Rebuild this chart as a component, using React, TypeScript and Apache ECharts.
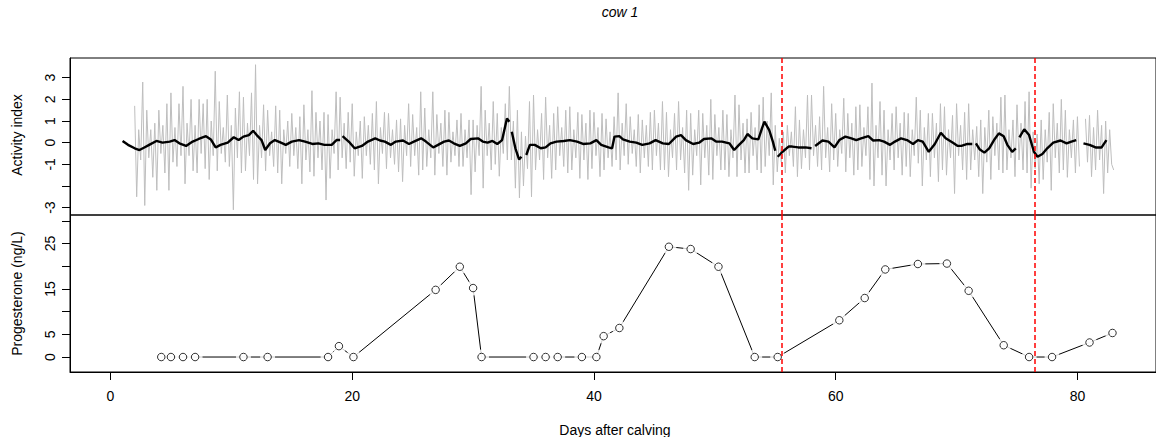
import React, { useEffect, useRef } from "react";
import * as echarts from "echarts";

// ---------- data ----------
// Activity index (raw, grey), sampled every 4 h from day 2
const grayStart = 2;
const grayPerDay = 6;
const grayValues: (number | null)[] = [
  1.7, -2.5, 0.6, -0.8, 2.8, -2.9,
  1.5, -0.7, 0.6, -1.6, 0.9, -2.2,
  1.5, -0.5, 0.8, -1.4, 1.8, -2.2,
  2.3, -0.9, 0.7, -1.1, 1.8, -0.6,
  2.6, -1.9, 0.9, -0.6, 2.0, -1.3,
  0.8, -1.4, 2.0, -0.5, 1.8, -1.2,
  2.0, -1.7, 1.0, -0.6, 3.3, -1.3,
  1.9, -0.5, 0.7, -0.9, 2.2, -1.1,
  0.8, -3.1, 1.6, -0.7, 2.35, -1.4,
  2.1, -1.3, 0.9, -0.6, 2.3, -1.7,
  3.6, -1.9, 0.8, -0.7, 1.75, -1.3,
  1.5, -0.6, 0.5, -1.1, 1.7, -1.4,
  1.5, -1.9, 0.6, -0.5, 1.0, -1.1,
  1.35, -0.6, 0.7, -1.2, 1.2, -1.9,
  1.75, -0.8, 0.6, -1.35, 2.4, -1.55,
  1.4, -0.7, 1.0, -1.26, 1.4, -2.65,
  1.3, -1.65, 0.6, -0.5, 2.35, -1.26,
  2.1, -0.7, 0.9, -1.2, 1.4, -0.9,
  1.8, -1.55, 0.5, -0.6, 1.0, -1.65,
  1.2, -0.6, 0.8, -1.0, 1.35, -1.26,
  1.9, -1.9, 0.7, -0.5, 1.4, -1.2,
  1.35, -0.7, 0.6, -1.0, 1.05, -1.35,
  1.1, -1.8, 0.8, -0.6, 1.8, -1.1,
  1.3, -0.6, 0.7, -1.5, 2.35, -1.26,
  1.6, -1.1, 0.6, -0.7, 2.35, -1.5,
  1.3, -0.5, 0.9, -1.1, 1.5, -1.5,
  1.4, -0.9, 0.5, -0.6, 1.05, -1.1,
  1.35, -1.1, 0.6, -0.7, 1.05, -2.4,
  1.05, -1.35, 0.8, -0.6, 2.6, -2.1,
  1.5, -0.6, 0.9, -1.26, 1.9, -1.0,
  1.35, -1.55, 0.7, -0.5, 1.8, -0.8,
  2.6, -0.8, 1.0, -2.1, 1.5, -2.55,
  0.5, -2.0, 0.3, -1.2, 1.9, -2.5,
  2.2, -1.26, 0.6, -0.8, 1.35, -1.7,
  2.1, -0.7, 0.8, -1.65, 1.35, -1.26,
  1.66, -0.6, 0.7, -1.1, 1.5, -1.4,
  1.66, -1.26, 0.6, -0.7, 1.4, -1.65,
  1.3, -0.8, 0.9, -1.7, 1.5, -1.2,
  1.4, -0.6, 0.7, -1.57, 1.35, -1.26,
  1.1, -0.7, 0.5, -1.1, 1.2, -0.8,
  2.3, -1.26, 0.9, -0.6, 1.8, -1.0,
  1.2, -0.5, 0.6, -1.1, 1.3, -1.4,
  1.05, -0.7, 0.8, -1.1, 1.4, -1.26,
  1.5, -0.6, 0.9, -1.26, 1.9, -1.26,
  1.4, -1.57, 0.6, -0.7, 1.35, -1.26,
  1.9, -0.8, 0.7, -1.4, 1.5, -2.2,
  1.35, -1.5, 0.6, -0.6, 1.5, -1.95,
  1.35, -0.7, 0.8, -1.5, 2.0, -1.7,
  1.3, -0.6, 0.7, -1.26, 1.5, -1.26,
  1.3, -1.57, 0.6, -0.7, 2.2, -1.57,
  1.75, -0.8, 0.9, -1.4, 1.1, -1.4,
  1.4, -0.6, 0.7, -1.26, 1.75, -1.4,
  2.1, -1.1, 1.0, -0.6, 2.3, -1.95,
  0.8, -1.35, 0.2, -0.9, 0.5, -1.4,
  0.8, -0.6, 0.5, -1.1, 1.66, -1.57,
  1.05, -1.2, 0.6, -0.7, 2.2, -1.26,
  2.2, -0.6, 0.8, -1.1, 1.2, -1.26,
  2.6, -0.7, 0.7, -1.35, 1.8, -0.8,
  1.35, -1.1, 0.6, -0.5, 2.05, -1.35,
  1.35, -0.7, 0.9, -1.5, 1.66, -1.26,
  1.75, -1.1, 0.7, -0.6, 1.66, -1.7,
  2.75, -2.0, 0.8, -0.7, 1.9, -1.5,
  1.5, -2.0, 0.6, -0.8, 1.35, -1.26,
  1.66, -0.7, 0.9, -1.5, 1.4, -1.1,
  1.35, -1.57, 0.6, -0.6, 2.1, -0.95,
  1.5, -2.0, 0.7, -0.8, 1.35, -1.57,
  1.35, -0.7, 0.9, -1.8, 1.8, -1.26,
  1.66, -1.5, 0.6, -0.7, 1.26, -2.35,
  1.8, -0.6, 0.8, -1.26, 1.4, -1.7,
  1.8, -1.26, 0.6, -0.8, 0.75, -1.57,
  1.05, -2.35, 0.7, -0.9, 1.5, -1.7,
  1.2, -0.6, 0.9, -1.26, 2.1, -1.4,
  2.2, -1.26, 0.6, -0.7, 1.05, -1.57,
  1.75, -0.8, 0.9, -1.26, 1.9, -1.4,
  2.35, -2.1, 0.5, -1.2, 0.4, -1.9,
  1.05, -1.7, 0.6, -0.9, 1.4, -2.2,
  1.8, -0.7, 0.9, -1.4, 2.0, -1.26,
  1.5, -1.6, 0.6, -0.7, 1.05, -1.4,
  1.2, -1.1, null, null, 1.1, -0.9,
  1.26, -1.57, 0.7, -1.26, 1.5, -0.8,
  0.8, -2.35, 1.0, -1.4, 0.6, -1.0,
  -1.26,
];

// Smoothed activity index (black)
const smoothDays = [
  1.0, 1.45, 2.0, 2.4, 2.8, 3.2, 3.8, 4.3, 4.9, 5.3, 5.7, 6.25, 6.8, 7.3, 7.9, 8.3, 8.7, 9.1, 9.7,
  10.2, 10.6, 11.0, 11.45, 11.8, 12.1, 12.5, 12.8, 13.2, 13.6, 14.1, 14.5, 15.0, 15.6, 16.1, 16.7,
  17.2, 17.7, 18.3, 18.7, 19.0, 19.1, 19.2, 19.5, 19.8, 20.2, 20.8, 21.3, 21.9, 22.3, 22.7, 23.2,
  23.6, 24.2, 24.7, 25.1, 25.7, 26.1, 26.7, 27.1, 27.6, 28.0, 28.4, 28.9, 29.4, 29.8, 30.4, 30.8,
  31.2, 31.6, 32.0, 32.4, 32.8, 33.0, 33.1, 33.2, 33.5, 33.8, 34.0, 34.2, 34.4, 34.7, 35.1, 35.6,
  36.0, 36.4, 36.9, 37.5, 38.0, 38.6, 39.1, 39.7, 40.2, 40.6, 41.2, 41.5, 41.7, 42.1, 42.4, 42.96,
  43.5, 44.0, 44.6, 45.1, 45.7, 46.2, 46.8, 47.2, 47.6, 48.2, 48.7, 49.1, 49.7, 50.1, 50.6, 51.2,
  51.6, 52.0, 52.4, 52.7, 53.1, 53.6, 53.9, 54.1, 54.5, 54.8, 55.0, 55.1, 55.2, 55.6, 56.1, 56.4,
  56.9, 57.5, 58.0, 58.15, 58.3, 58.9, 59.4, 59.9, 60.3, 60.8, 61.3, 61.7, 62.1, 62.7, 63.1, 63.6,
  64.0, 64.5, 64.9, 65.4, 65.9, 66.4, 66.8, 67.2, 67.7, 68.2, 68.7, 69.1, 69.7, 70.1, 70.4, 70.9,
  71.3, 71.45, 71.6, 71.9, 72.3, 72.7, 73.1, 73.5, 73.9, 74.2, 74.6, 74.9, 75.05, 75.2, 75.6, 76.0,
  76.4, 76.7, 77.1, 77.5, 78.0, 78.6, 79.1, 79.5, 79.9, 80.2, 80.5, 81.0, 81.5, 82.0, 82.4,
];
const smoothValues: (number | null)[] = [
  0.08, -0.1, -0.26, -0.34, -0.22, -0.1, 0.08, 0, 0.05, 0.12, -0.03, -0.15, 0.05, 0.17, 0.3, 0.15, -0.22, -0.1, 0,
  0.25, 0.12, 0.28, 0.35, 0.55, 0.35, 0.12, -0.34, -0.03, 0.12, 0, -0.1, 0.05, 0.12, 0.05, -0.06,
  -0.03, -0.1, -0.1, 0.12, 0.12, null, 0.3, 0.15, 0, -0.26, -0.15, 0.05, 0.2, 0.1, 0.05, -0.1,
  0.05, 0.1, -0.06, 0.05, 0.2, 0.05, -0.22, -0.1, 0.05, 0.1, -0.03, -0.15, -0.03, 0.17, 0.2, 0.05,
  0, 0.08, -0.06, 0.12, 1.12, 0.97, null, 0.5, -0.26, -0.77, -0.65, null, -0.57, -0.1, -0.1, -0.26,
  -0.22, -0.03, 0.05, 0.08, 0.12, 0.05, -0.06, -0.03, 0.12, -0.1, -0.22, -0.26, 0.28, 0.3, 0.15, 0.05,
  0, -0.1, -0.03, 0.12, -0.03, -0.06, 0.28, 0.35, 0.12, -0.06, 0, 0.17, 0.2, 0.05, 0.05, -0.03,
  -0.34, -0.1, 0.12, 0.4, 0.2, 0.15, 0.66, 0.97, 0.58, 0.05, -0.37, null, -0.65, -0.42, -0.18, -0.18,
  -0.22, -0.22, -0.26, null, -0.15, 0.1, 0.05, -0.22, 0.12, 0.28, 0.2, 0.12, 0.2, 0.3, 0.1, 0.12,
  0.05, -0.1, 0.05, 0.2, 0.12, -0.06, 0.12, 0.05, -0.42, -0.06, 0.46, 0.2, 0, -0.15, -0.15, -0.06,
  -0.06, null, -0.03, -0.3, -0.46, -0.26, 0.12, 0.43, 0.3, -0.1, -0.42, -0.26, null, 0.25, 0.62, 0.35,
  -0.42, -0.65, -0.52, -0.26, 0, 0.1, -0.03, 0.05, 0.12, null, -0.03, -0.1, -0.22, -0.22, 0.12,
];

// Progesterone samples
const progDays = [
  4.2, 5.0, 6.0, 7.0, 11.0, 13.0, 18.0, 18.9, 20.1, 26.9, 28.9, 30.0, 30.7, 35.0, 36.0, 37.0, 39.0, 40.2,
  40.8, 42.1, 46.2, 48.0, 50.3, 53.3, 55.2, 60.3, 62.4, 64.1, 66.8, 69.2, 71.0, 73.9, 76.0, 77.9, 81.0, 82.9,
];
const progValues = [
  0, 0, 0, 0, 0, 0, 0, 2.4, 0, 14.8, 19.9, 15.2, 0, 0, 0, 0, 0, 0,
  4.6, 6.4, 24.3, 23.8, 19.9, 0, 0, 8.1, 13.0, 19.3, 20.5, 20.6, 14.6, 2.6, 0, 0, 3.2, 5.3,
];

// Oestrus events (red dashed lines)
const eventDays = [55.5, 76.5];

// Axis ticks / labels
const xTicks = [0, 20, 40, 60, 80];
const actTicks = [-3, -2, -1, 0, 1, 2, 3];
const actLabels = [-3, -1, 0, 1, 2, 3];
const progTicks = [0, 5, 10, 15, 20, 25, 30];
const progLabels = [0, 5, 15, 25];

const FONT = "'Liberation Sans', Arial, Helvetica, sans-serif";

export default function App() {
  const ref = useRef<HTMLDivElement>(null);

  useEffect(() => {
    if (!ref.current) return;
    const chart = echarts.init(ref.current, undefined, { renderer: "svg" });

    const grayData = grayValues.map((v, i) => [grayStart + i / grayPerDay, v]);
    const smoothData = smoothDays.map((d, i) => [d, smoothValues[i]]);
    const progData = progDays.map((d, i) => [d, progValues[i]]);

    const xRange = { min: -3.35, max: 86.5 };

    const markLine = {
      silent: true,
      symbol: ["none", "none"],
      label: { show: false },
      lineStyle: { color: "#FF0000", type: [5, 3], width: 1.5 },
      data: eventDays.map((d) => ({ xAxis: d })),
    };

    const blackAxisLine = { show: true, onZero: false, lineStyle: { color: "#000", width: 1 } };
    const tick = (values: number[]) => ({
      show: true,
      inside: false,
      length: 8,
      customValues: values,
      lineStyle: { color: "#000", width: 1 },
    });

    const option: any = {
      animation: false,
      backgroundColor: "#fff",
      textStyle: { fontFamily: FONT },
      grid: [
        { left: 70, top: 58, width: 1092.6, height: 157, show: true, borderColor: "#000", borderWidth: 1 },
        { left: 70, top: 215, width: 1092.6, height: 157, show: true, borderColor: "#000", borderWidth: 1 },
      ],
      xAxis: [
        {
          type: "value",
          gridIndex: 0,
          ...xRange,
          axisLine: { show: false, onZero: false },
          axisTick: { show: false },
          axisLabel: { show: false },
          splitLine: { show: false },
        },
        {
          type: "value",
          gridIndex: 1,
          position: "bottom",
          ...xRange,
          axisLine: blackAxisLine,
          axisTick: tick(xTicks),
          axisLabel: { customValues: xTicks, margin: 17, fontSize: 14, color: "#000", fontFamily: FONT },
          splitLine: { show: false },
        },
      ],
      yAxis: [
        {
          type: "value",
          gridIndex: 0,
          position: "left",
          min: -3.34,
          max: 3.91,
          axisLine: blackAxisLine,
          axisTick: tick(actTicks),
          axisLabel: { customValues: actLabels, rotate: 90, margin: 13, fontSize: 14, color: "#000", fontFamily: FONT },
          splitLine: { show: false },
        },
        {
          type: "value",
          gridIndex: 1,
          position: "left",
          min: -3.3,
          max: 31.3,
          axisLine: blackAxisLine,
          axisTick: tick(progTicks),
          axisLabel: { customValues: progLabels, rotate: 90, margin: 13, fontSize: 14, color: "#000", fontFamily: FONT },
          splitLine: { show: false },
        },
      ],
      series: [
        {
          type: "line",
          xAxisIndex: 0,
          yAxisIndex: 0,
          data: grayData,
          showSymbol: false,
          connectNulls: false,
          silent: true,
          lineStyle: { color: "#BEBEBE", width: 1 },
          z: 1,
        },
        {
          type: "line",
          xAxisIndex: 0,
          yAxisIndex: 0,
          data: smoothData,
          showSymbol: false,
          connectNulls: false,
          silent: true,
          lineStyle: { color: "#000", width: 2.4 },
          z: 2,
        },
        {
          type: "line",
          xAxisIndex: 0,
          yAxisIndex: 0,
          data: [],
          silent: true,
          markLine,
          z: 5,
        },
        {
          type: "line",
          xAxisIndex: 1,
          yAxisIndex: 1,
          data: progData,
          showSymbol: false,
          silent: true,
          lineStyle: { color: "#000", width: 1 },
          z: 1,
        },
        {
          type: "scatter",
          xAxisIndex: 1,
          yAxisIndex: 1,
          data: progData,
          symbol: "circle",
          symbolSize: 15,
          silent: true,
          itemStyle: { color: "#fff", borderWidth: 0 },
          z: 2,
        },
        {
          type: "scatter",
          xAxisIndex: 1,
          yAxisIndex: 1,
          data: progData,
          symbol: "circle",
          symbolSize: 7.5,
          silent: true,
          itemStyle: { color: "#fff", borderColor: "#000", borderWidth: 1 },
          z: 3,
        },
        {
          type: "line",
          xAxisIndex: 1,
          yAxisIndex: 1,
          data: [],
          silent: true,
          markLine,
          z: 5,
        },
      ],
      graphic: [
        {
          type: "text",
          x: 620,
          y: 12,
          style: { text: "cow 1", fontSize: 14, fontStyle: "italic", fontFamily: FONT, fill: "#000", textAlign: "center", textVerticalAlign: "middle" },
        },
        {
          type: "text",
          x: 615,
          y: 430,
          style: { text: "Days after calving", fontSize: 14, fontFamily: FONT, fill: "#000", textAlign: "center", textVerticalAlign: "middle" },
        },
        {
          type: "text",
          x: 17,
          y: 135,
          rotation: Math.PI / 2,
          style: { text: "Activity index", fontSize: 14, fontFamily: FONT, fill: "#000", textAlign: "center", textVerticalAlign: "middle" },
        },
        {
          type: "text",
          x: 17,
          y: 293.5,
          rotation: Math.PI / 2,
          style: { text: "Progesterone (ng/L)", fontSize: 14, fontFamily: FONT, fill: "#000", textAlign: "center", textVerticalAlign: "middle" },
        },
      ],
    };

    chart.setOption(option);
    return () => chart.dispose();
  }, []);

  return <div ref={ref} style={{ position: "absolute", left: 0, top: 0, width: 1156, height: 437 }} />;
}
